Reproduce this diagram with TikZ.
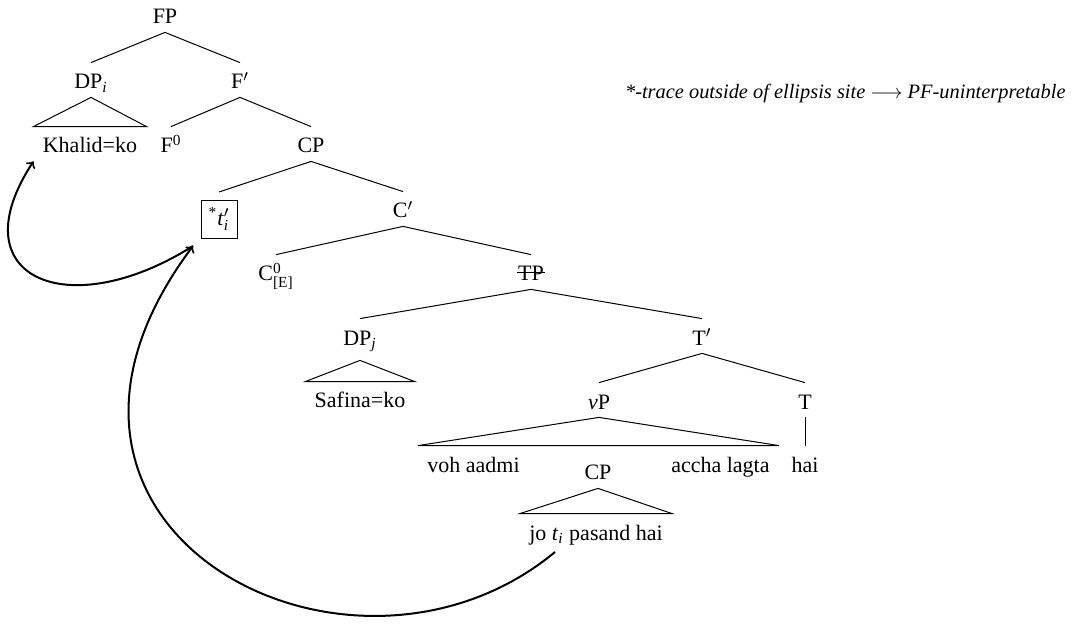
\documentclass[tikz,border=0pt]{standalone}
\usepackage{amsmath}
\usepackage{fontspec}
\setmainfont{Liberation Serif}
\usetikzlibrary{calc}

\tikzset{
  lbl/.style={font=\fontsize{11}{13}\selectfont, inner xsep=0pt, inner ysep=4pt,
              text height=9pt, text depth=0pt, anchor=base},
  leaf/.style={lbl, inner xsep=4.5pt},
  branch/.style={line width=0.5pt},
  tri/.style={line width=0.5pt, line join=miter},
  tracebox/.style={draw, line width=0.45pt, font=\fontsize{11}{13}\selectfont,
              inner sep=2pt, minimum width=18pt, minimum height=19pt, outer sep=4pt},
  move/.style={->, line width=1pt},
}

\begin{document}
\begin{tikzpicture}[x=0.5pt, y=-0.5pt]
\useasboundingbox (0,0) rectangle (1078,626);

% tree nodes
\node[lbl] (FP)    at (165,24)  {FP};
\node[lbl] (DPi)   at (91,89)   {DP\textsubscript{\textit{i}}};
\node[lbl] (Fbar)  at (240,89)  {F$'$};
\node[leaf] (khalid) at (90,153) {Khalid=ko};
\node[lbl] (F0)    at (171,153) {F$^{\text{0}}$};
\node[lbl] (CPa)   at (311,153) {CP};
\node[tracebox] (trace) at (219,219) {\textsuperscript{*}\textit{t}$'_{\textit{i}}$};
\node[lbl] (Cbar)  at (403,218) {C$'$};
\node[lbl] (C0)    at (276,281) {C$^{\text{0}}_{\text{[E]}}$};
\node[lbl] (TP)    at (531,281) {TP};
\node[lbl, text depth=3.5pt] (DPj) at (360,345) {DP\textsubscript{\textit{j}}};
\node[lbl] (Tbar)  at (702,345) {T$'$};
\node[leaf] (safina) at (360,408) {Safina=ko};
\node[lbl] (vP)    at (599,409) {\textit{v}P};
\node[lbl] (T)     at (805,409) {T};
\node[leaf, anchor=base west] (voh)   at (418,472) {voh aadmi};
\node[leaf, anchor=base east] (accha) at (779,472) {accha lagta};
\node[lbl] (hai)   at (805,472) {hai};
\node[lbl] (CPb)   at (598,480) {CP};
\node[leaf] (jo)   at (596,540) {jo \textit{t}\textsubscript{\textit{i}} pasand hai};

% the elided TP is struck through
\draw[line width=0.5pt] ($(TP.base west)+(-1,-8)$) -- ($(TP.base east)+(1,-8)$);

% annotation
\node[font=\fontsize{10.2}{12}\selectfont\itshape, anchor=base east, inner sep=0pt] (note) at (1066,99)
  {*-trace outside of ellipsis site $\longrightarrow$ PF-uninterpretable};

% branches
\draw[branch] (FP.south) -- (DPi.north);
\draw[branch] (FP.south) -- (Fbar.north);
\draw[branch] (Fbar.south) -- (F0.north);
\draw[branch] (Fbar.south) -- (CPa.north);
\draw[branch] (CPa.south) -- (trace.north);
\draw[branch] (CPa.south) -- (Cbar.north);
\draw[branch] (Cbar.south) -- (C0.north);
\draw[branch] (Cbar.south) -- (TP.north);
\draw[branch] (TP.south) -- (DPj.north);
\draw[branch] (TP.south) -- (Tbar.north);
\draw[branch] (Tbar.south) -- (vP.north);
\draw[branch] (Tbar.south) -- (T.north);
\draw[branch] (T.south) -- (hai.north);

% roofs over unanalysed constituents
\draw[tri] (DPi.south) -- (khalid.north west) -- (khalid.north east) -- cycle;
\draw[tri] (DPj.south) -- (safina.north west) -- (safina.north east) -- cycle;
\draw[tri] (vP.south) -- (voh.north west) -- (accha.north east) -- cycle;
\draw[tri] (CPb.south) -- (jo.north west) -- (jo.north east) -- cycle;

% movement arrows
\coordinate (tlow) at (555,552);
\draw[move] (tlow) .. controls (350,722) and (-20,530) .. (trace.south west);
\draw[move] (trace.south west) .. controls (68,325) and (-43,278) .. (khalid.south west);
\end{tikzpicture}
\end{document}
